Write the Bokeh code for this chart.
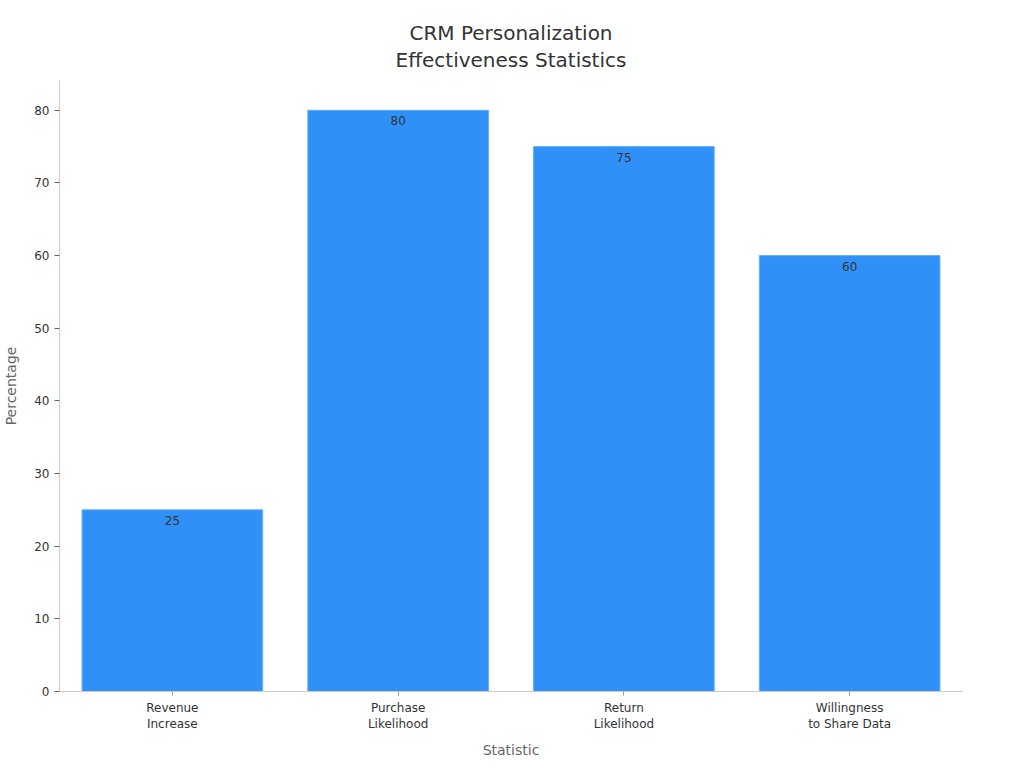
from bokeh.plotting import figure
from bokeh.models import ColumnDataSource, Range1d, FactorRange
from bokeh.embed import file_html
from bokeh.resources import INLINE
from bokeh.core.properties import value

categories = ["Revenue\nIncrease", "Purchase\nLikelihood", "Return\nLikelihood", "Willingness\nto Share Data"]
values = [25, 80, 75, 60]
labels = [str(v) for v in values]
title_text = "CRM Personalization\nEffectiveness Statistics"

FONT = "DejaVu Sans"

src = ColumnDataSource(dict(cat=categories, val=values, lab=labels))

p = figure(
    x_range=FactorRange(*categories, range_padding=0),
    y_range=Range1d(0, 84.1),
    frame_width=903, frame_height=611,
    min_border_left=53, min_border_right=44, min_border_top=80, min_border_bottom=10,
    output_backend="svg", toolbar_location=None,
    title=title_text,
)
p.title.align = "center"
if "text_align" in p.title.properties():
    p.title.text_align = "center"
p.title.text_font = FONT
p.title.text_font_size = "20px"
p.title.text_font_style = "normal"
p.title.text_color = "#333333"
p.title.text_line_height = 1.15
p.title.standoff = 16

p.vbar(x="cat", top="val", width=0.8, source=src, fill_color="#2f91f8", line_color="#62adf9", line_width=1)
p.text(x="cat", y="val", text="lab", source=src, text_align="center", text_baseline="top",
       y_offset=6, text_font=value(FONT), text_font_size="12px", text_color="#333333")

p.xgrid.visible = False
p.ygrid.visible = False
p.outline_line_color = None

for ax in (p.xaxis, p.yaxis):
    ax.axis_line_color = "#cccccc"
    ax.major_tick_line_color = "#666666"
    ax.minor_tick_line_color = None
    ax.major_label_text_font = FONT
    ax.major_label_text_font_size = "12px"
    ax.major_label_text_color = "#333333"
    ax.axis_label_text_font = FONT
    ax.axis_label_text_font_size = "14px"
    ax.axis_label_text_font_style = "normal"
    ax.axis_label_text_color = "#666666"

p.yaxis.axis_label = "Percentage"
p.xaxis.axis_label = "Statistic"
p.yaxis.ticker = [0, 10, 20, 30, 40, 50, 60, 70, 80]
p.yaxis.major_tick_in = 0
p.yaxis.major_tick_out = 5
p.xaxis.major_tick_in = 0
p.xaxis.major_tick_out = 4
p.xaxis.major_tick_line_color = "#999999"
p.xaxis.axis_label_standoff = 8
p.yaxis.axis_label_standoff = 12

open("out.html", "w").write(file_html(p, INLINE))
